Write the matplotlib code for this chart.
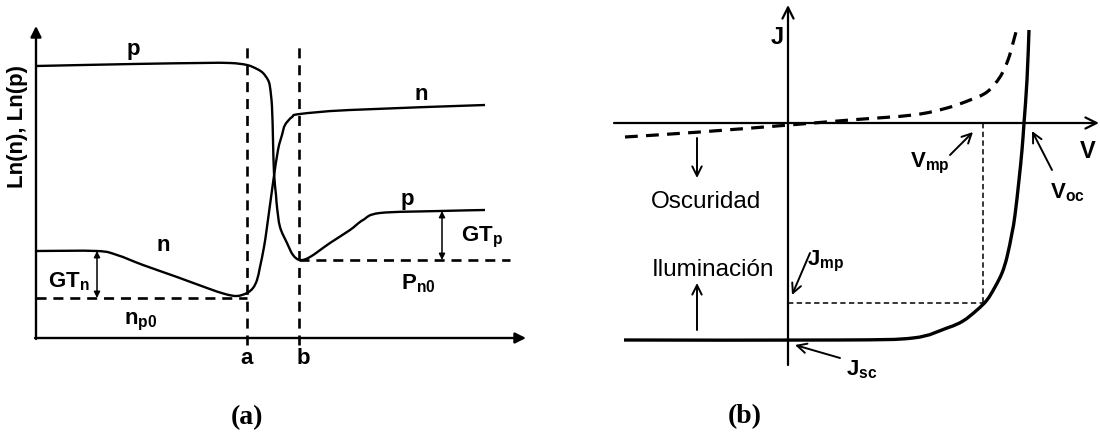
import matplotlib
matplotlib.use("Agg")
import matplotlib.pyplot as plt
import numpy as np
from matplotlib.path import Path
from matplotlib.patches import PathPatch

plt.rcParams['font.family'] = ['Liberation Sans', 'DejaVu Sans']
plt.rcParams['mathtext.fontset'] = 'custom'
plt.rcParams['mathtext.rm'] = 'Liberation Sans'
plt.rcParams['mathtext.bf'] = 'Liberation Sans:bold'
plt.rcParams['mathtext.it'] = 'Liberation Sans:italic'

# ---- (a) carrier profile across the junction (arbitrary units) ----
p_x = [0, 97, 164, 194, 211, 221, 227, 232, 234, 236, 237, 238, 240, 241, 244,
       251, 257, 264, 274, 294, 314, 327, 344, 404, 449]
p_y = [272, 274, 275, 275, 273, 269, 265, 258, 251, 231, 198, 165, 143, 131, 111,
       95, 83, 78, 81, 95, 108, 118, 125, 127, 128]
n_x = [0, 61, 81, 107, 141, 171, 189, 201, 211, 217, 221, 224, 228, 231, 237,
       242, 246, 249, 256, 264, 314, 449]
n_y = [87, 87, 83, 73, 61, 50, 44, 42, 45, 50, 58, 71, 91, 111, 155,
       188, 203, 213, 221, 224, 228, 233]
x_a = 211      # edge of depletion region, p side
x_b = 263      # edge of depletion region, n side
n_p0 = 40
p_n0 = 78
gt_n_at = 61
gt_p_at = 406
n_left_top = 87
p_right_top = 127

# ---- (b) J-V curves (arbitrary units) ----
dark_v = [-163, -88, 1, 62, 125, 159, 182, 199, 212, 220, 225, 229]
dark_j = [-14, -9, -2, 3, 8, 15, 23, 31, 46, 63, 80, 95]
light_v = [-164, 50, 125, 159, 175, 189, 199, 207, 214, 219, 224, 227, 231, 234,
           236, 239, 241]
light_j = [-217, -217, -215, -205, -198, -187, -177, -164, -150, -134, -110, -92,
           -57, -27, 0, 43, 93]
v_mp = 195
j_mp = -180
j_sc = -217
v_oc = 236


def smooth_curve(ax, xs, ys, **kw):
    # cubic Bezier segments through the given points (Catmull-Rom tangents)
    pts = np.column_stack([xs, ys]).astype(float)
    verts = [pts[0]]
    codes = [Path.MOVETO]
    n = len(pts)
    for i in range(n - 1):
        p0 = pts[max(i - 1, 0)]
        p1 = pts[i]
        p2 = pts[i + 1]
        p3 = pts[min(i + 2, n - 1)]
        verts += [p1 + (p2 - p0) / 6, p2 - (p3 - p1) / 6, p2]
        codes += [Path.CURVE4] * 3
    ax.add_patch(PathPatch(Path(verts, codes), fill=False, capstyle='butt',
                           joinstyle='round', **kw))


fig = plt.figure(figsize=(11, 4.36), dpi=100)
ax1 = fig.add_axes([0, 0, 0.5, 1])
ax2 = fig.add_axes([0.5, 0, 0.5, 1])
for ax in (ax1, ax2):
    ax.set_axis_off()
ax1.set_xlim(-36, 514)
ax1.set_ylim(-98, 338)
ax2.set_xlim(-238, 312)
ax2.set_ylim(-313, 123)

bold = dict(fontsize=16, fontweight='bold', ha='center', va='center')

# axes of panel (a)
ax1.annotate('', xy=(0, 312), xytext=(0, -1),
             arrowprops=dict(arrowstyle='-|>', lw=1.7, color='black', mutation_scale=16,
                             shrinkA=0, shrinkB=0))
ax1.annotate('', xy=(490, 0), xytext=(-1, 0),
             arrowprops=dict(arrowstyle='-|>', lw=1.7, color='black', mutation_scale=16,
                             shrinkA=0, shrinkB=0))

smooth_curve(ax1, p_x, p_y, edgecolor='black', lw=1.7)
smooth_curve(ax1, n_x, n_y, edgecolor='black', lw=1.7)

dash = dict(color='black', lw=1.9, dashes=(3.8, 2.6))
ax1.plot([x_a, x_a], [-7, 293], **dash)
ax1.plot([x_b, x_b], [-7, 293], **dash)
ax1.plot([0, x_a], [n_p0, n_p0], **dash)
ax1.plot([x_b, 474], [p_n0, p_n0], **dash)

ax1.annotate('', xy=(gt_n_at, n_left_top), xytext=(gt_n_at, n_p0),
             arrowprops=dict(arrowstyle='<|-|>', lw=1.1, color='black',
                             mutation_scale=9, shrinkA=0, shrinkB=0))
ax1.annotate('', xy=(gt_p_at, p_right_top), xytext=(gt_p_at, p_n0),
             arrowprops=dict(arrowstyle='<|-|>', lw=1.1, color='black',
                             mutation_scale=9, shrinkA=0, shrinkB=0))

ax1.text(97, 289, 'p', **bold)
ax1.text(385, 243, 'n', **bold)
ax1.text(371, 138, 'p', **bold)
ax1.text(127, 93, 'n', **bold)
ax1.text(33, 56, r'$\mathbf{GT_n}$', **bold)
ax1.text(446, 101, r'$\mathbf{GT_p}$', **bold)
ax1.text(382, 54, r'$\mathbf{P_{n0}}$', **bold)
ax1.text(105, 16, r'$\mathbf{n_{p0}}$', **bold)
ax1.text(x_a, -20, 'a', **bold)
ax1.text(x_b + 4, -20, 'b', **bold)
ax1.text(-18, 211, 'Ln(n), Ln(p)', rotation=90, **bold)
ax1.text(211, -80, '(a)', fontsize=20, fontweight='bold', ha='center', va='center',
         family='Liberation Serif')

# axes of panel (b)
ax2.annotate('', xy=(0, 118), xytext=(0, -242),
             arrowprops=dict(arrowstyle='->', lw=1.6, color='black', mutation_scale=20,
                             shrinkA=0, shrinkB=0))
ax2.annotate('', xy=(311, 0), xytext=(-174, 0),
             arrowprops=dict(arrowstyle='->', lw=1.6, color='black', mutation_scale=20,
                             shrinkA=0, shrinkB=0))

smooth_curve(ax2, dark_v, dark_j, edgecolor='black', lw=2.3, linestyle=(0, (4, 2.6)))
smooth_curve(ax2, light_v, light_j, edgecolor='black', lw=2.4)

thin = dict(color='black', lw=1.1, dashes=(3.5, 2.2))
ax2.plot([v_mp, v_mp], [0, j_mp], **thin)
ax2.plot([0, v_mp], [j_mp, j_mp], **thin)

small = dict(arrowstyle='->', lw=1.4, color='black', mutation_scale=17,
             shrinkA=0, shrinkB=0)
ax2.annotate('', xy=(185, -9), xytext=(162, -32), arrowprops=small)
ax2.annotate('', xy=(v_oc + 8, -8), xytext=(264, -47), arrowprops=small)
ax2.annotate('', xy=(4, -172), xytext=(22, -130), arrowprops=small)
ax2.annotate('', xy=(7, j_sc - 5), xytext=(52, -235), arrowprops=small)
ax2.annotate('', xy=(-91, -55), xytext=(-91, -15), arrowprops=small)
ax2.annotate('', xy=(-91, -160), xytext=(-91, -207), arrowprops=small)

ax2.text(-11, 86, 'J', fontsize=17, fontweight='bold', ha='center', va='center')
ax2.text(300, -28, 'V', fontsize=17, fontweight='bold', ha='center', va='center')
ax2.text(142, -40, r'$\mathbf{V_{mp}}$', **bold)
ax2.text(279, -70, r'$\mathbf{V_{oc}}$', **bold)
ax2.text(38, -138, r'$\mathbf{J_{mp}}$', **bold)
ax2.text(74, -247, r'$\mathbf{J_{sc}}$', **bold)
ax2.text(-82, -79, 'Oscuridad', fontsize=17.5, ha='center', va='center')
ax2.text(-75, -147, 'Iluminación', fontsize=17.5, ha='center', va='center')
ax2.text(-43, -294, '(b)', fontsize=20, fontweight='bold', ha='center', va='center',
         family='Liberation Serif')

fig.savefig('out.png', dpi=100)
